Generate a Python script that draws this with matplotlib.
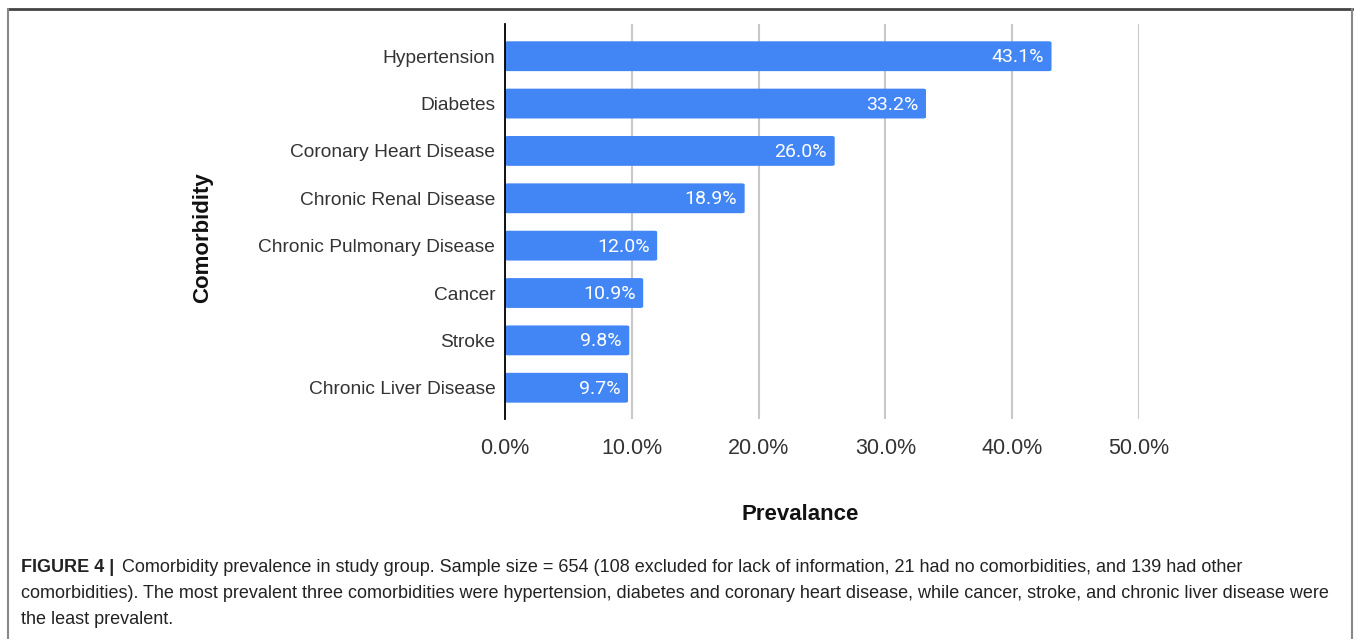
import matplotlib.pyplot as plt
from matplotlib.patches import FancyBboxPatch
from matplotlib.lines import Line2D

# Data
comorbidities = ['Hypertension', 'Diabetes', 'Coronary Heart Disease', 'Chronic Renal Disease',
                 'Chronic Pulmonary Disease', 'Cancer', 'Stroke', 'Chronic Liver Disease']
prevalence = [43.1, 33.2, 26.0, 18.9, 12.0, 10.9, 9.8, 9.7]
xticks = [0, 10, 20, 30, 40, 50]

bar_color = '#4285F4'
text_color = '#333333'

fig = plt.figure(figsize=(13.57, 6.39), dpi=100)
ax = fig.add_axes([505 / 1357, 1 - 419 / 639, (1139 - 505) / 1357, (419 - 24) / 639])

# bars with slightly rounded corners
ypos = list(range(len(comorbidities)))
h = 0.63
for y, v in zip(ypos, prevalence):
    ax.add_patch(FancyBboxPatch((0, y - h / 2), v, h,
                                boxstyle='round,pad=0,rounding_size=0.25',
                                mutation_aspect=0.1, fc=bar_color, ec='none', zorder=3))
    ax.text(v - 0.6, y + 0.02, f'{v:.1f}%', ha='right', va='center', color='white',
            fontsize=14, family='Roboto', zorder=4)

ax.set_xlim(0, 50)
ax.set_ylim(7.66, -0.68)
ax.set_yticks(ypos)
ax.set_yticklabels(comorbidities, fontsize=13.8, color=text_color, family='Liberation Sans')
ax.set_xticks(xticks)
ax.set_xticklabels([f'{t:.1f}%' for t in xticks], fontsize=15.5, color=text_color,
                   family='Liberation Sans')
ax.tick_params(axis='both', length=0)
ax.tick_params(axis='y', pad=7)
ax.tick_params(axis='x', pad=14)
ax.grid(axis='x', color='#c8c8c8', linewidth=1.5, zorder=0)
ax.set_axisbelow(True)
for s in ['top', 'right', 'bottom']:
    ax.spines[s].set_visible(False)
ax.spines['left'].set_color('black')
ax.spines['left'].set_linewidth(1.3)
ax.spines['left'].set_zorder(5)

fig.text(800 / 1357, 1 - 514 / 639, 'Prevalance', ha='center', va='center',
         fontsize=16, fontweight='bold', color='#111111', family='Liberation Sans')
fig.text(203 / 1357, 1 - 238 / 639, 'Comorbidity', ha='center', va='center', rotation=90,
         fontsize=16, fontweight='bold', color='#111111', family='Liberation Sans')

# frame around the figure panel
fig.add_artist(Line2D([7.5 / 1357, 1351.5 / 1357], [1 - 8.5 / 639, 1 - 8.5 / 639],
                      color='#444444', linewidth=2, transform=fig.transFigure))
fig.add_artist(Line2D([7.5 / 1357, 7.5 / 1357], [0, 1 - 8.5 / 639],
                      color='#888888', linewidth=1.5, transform=fig.transFigure))
fig.add_artist(Line2D([1351.5 / 1357, 1351.5 / 1357], [0, 1 - 8.5 / 639],
                      color='#888888', linewidth=1.5, transform=fig.transFigure))

# caption
cap_x = 21 / 1357
cap_fs = 13.0
fig.text(cap_x, 1 - 568 / 639, 'FIGURE 4 |', ha='left', va='center', fontsize=cap_fs,
         fontweight='bold', color='#222222', family='Liberation Sans')
fig.text(122 / 1357, 1 - 568 / 639,
         'Comorbidity prevalence in study group. Sample size = 654 (108 excluded for lack of information, '
         '21 had no comorbidities, and 139 had other',
         ha='left', va='center', fontsize=cap_fs, color='#222222', family='Liberation Sans')
fig.text(cap_x, 1 - 594 / 639,
         'comorbidities). The most prevalent three comorbidities were hypertension, diabetes and coronary '
         'heart disease, while cancer, stroke, and chronic liver disease were',
         ha='left', va='center', fontsize=cap_fs, color='#222222', family='Liberation Sans')
fig.text(cap_x, 1 - 619 / 639, 'the least prevalent.', ha='left', va='center', fontsize=cap_fs,
         color='#222222', family='Liberation Sans')

fig.savefig('out.png', dpi=100)
